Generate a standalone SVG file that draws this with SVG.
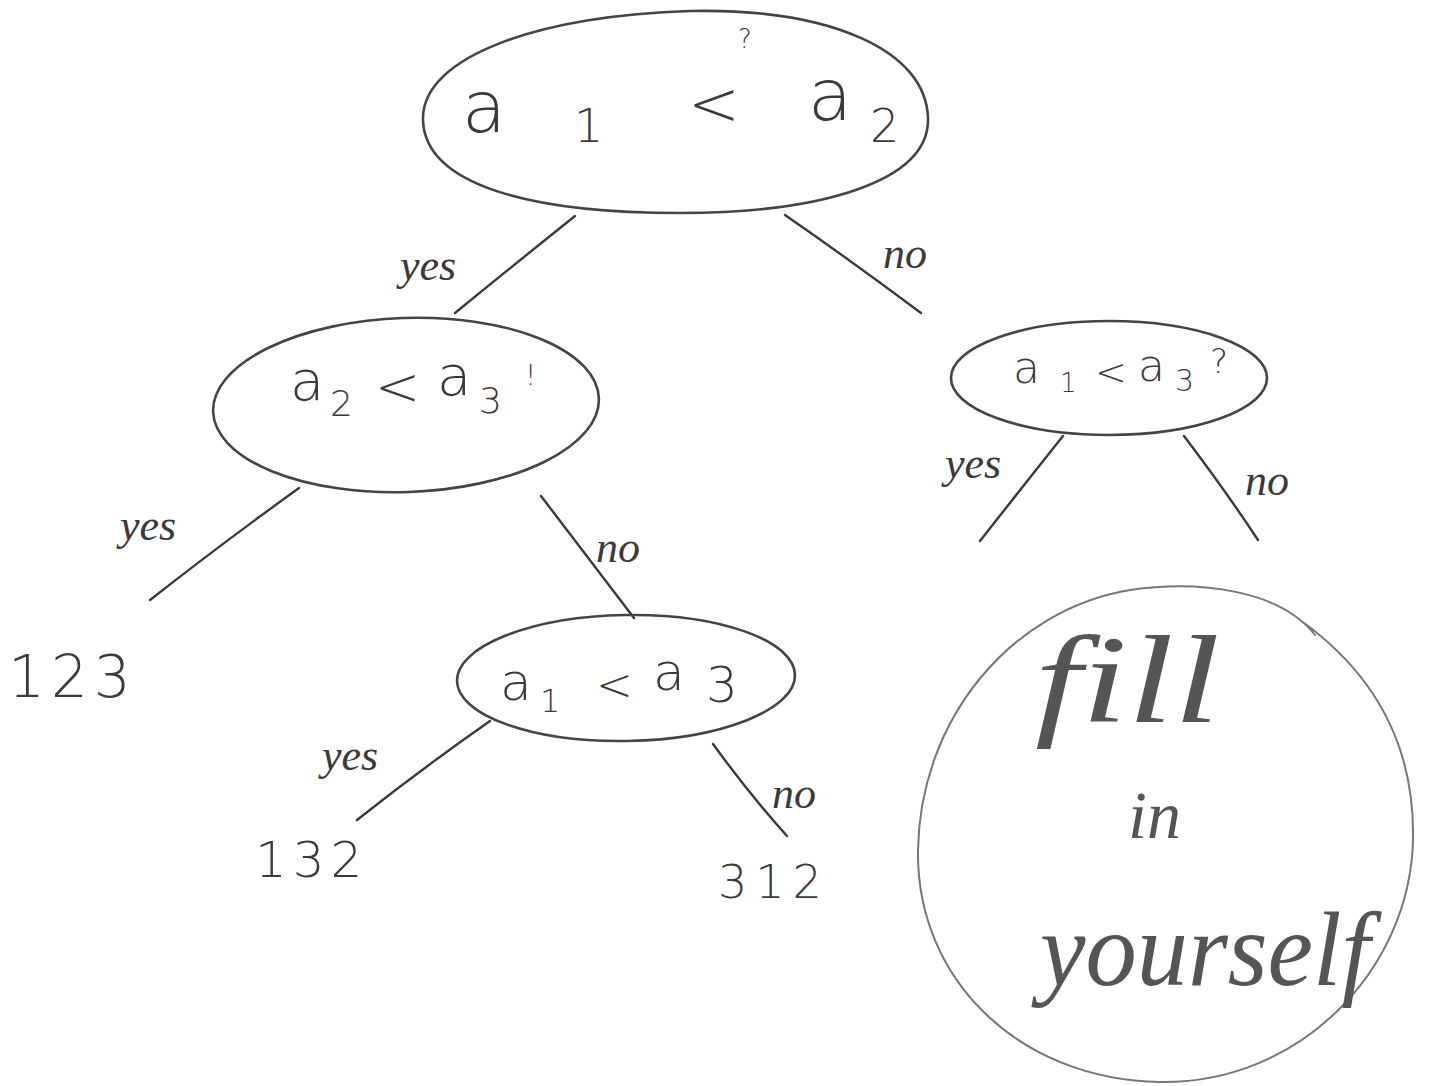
<svg xmlns="http://www.w3.org/2000/svg" width="1429" height="1086" viewBox="0 0 1429 1086">
<style>
.shape{fill:none;stroke:#444;stroke-width:2.6;stroke-linecap:round;stroke-linejoin:round}
.light{fill:none;stroke:#777;stroke-width:2;stroke-linecap:round}
.edge{fill:none;stroke:#3a3a3a;stroke-width:2.4;stroke-linecap:round}
.t{font-family:"DejaVu Sans","Liberation Sans",sans-serif;fill:#3a3a3a;font-weight:200}
.lbl{font-family:"Liberation Serif",serif;font-style:italic;fill:#3a3a3a;font-size:44px}
.big{font-family:"Liberation Serif",serif;font-style:italic;fill:#555}
</style>
<rect width="1429" height="1086" fill="#ffffff"/>
<g id="connectors">
<path class="edge" d="M575,216 Q520,260 455,313"/>
<path class="edge" d="M785,215 Q850,260 921,313"/>
<path class="edge" d="M299,488 Q220,545 150,600"/>
<path class="edge" d="M541,496 Q590,560 634,618"/>
<path class="edge" d="M1063,436 Q1020,490 980,541"/>
<path class="edge" d="M1184,436 Q1225,490 1258,540"/>
<path class="edge" d="M490,721 Q420,770 357,820"/>
<path class="edge" d="M713,744 Q750,795 787,836"/>
<text class="lbl" x="400" y="280">yes</text>
<text class="lbl" x="883" y="268">no</text>
<text class="lbl" x="120" y="540">yes</text>
<text class="lbl" x="596" y="562">no</text>
<text class="lbl" x="945" y="478">yes</text>
<text class="lbl" x="1245" y="495">no</text>
<text class="lbl" x="322" y="770">yes</text>
<text class="lbl" x="772" y="808">no</text>
</g>
<g id="node-a1-a2">
<path class="shape" d="M690,11 C830,8 926,50 928,118 C930,182 820,213 680,213 C530,213 425,185 423,120 C421,55 545,15 690,11 Z"/>
<text class="t" x="462" y="132" font-size="72">a</text>
<text class="t" x="574" y="142" font-size="46">1</text>
<text class="t" x="688" y="125" font-size="62">&lt;</text>
<text class="t" x="738" y="48" font-size="26">?</text>
<text class="t" x="808" y="120" font-size="72">a</text>
<text class="t" x="870" y="142" font-size="46">2</text>
</g>
<g id="node-a2-a3">
<ellipse class="shape" cx="406" cy="405" rx="193" ry="87" transform="rotate(-2 406 405)"/>
<text class="t" x="290" y="400" font-size="56">a</text>
<text class="t" x="330" y="416" font-size="36">2</text>
<text class="t" x="375" y="405" font-size="54">&lt;</text>
<text class="t" x="437" y="395" font-size="56">a</text>
<text class="t" x="479" y="413" font-size="36">3</text>
<text class="t" x="525" y="385" font-size="28">!</text>
</g>
<g id="node-a1-a3-right">
<ellipse class="shape" cx="1109" cy="378" rx="158" ry="57"/>
<text class="t" x="1013" y="383" font-size="44">a</text>
<text class="t" x="1060" y="392" font-size="26">1</text>
<text class="t" x="1095" y="385" font-size="38">&lt;</text>
<text class="t" x="1138" y="381" font-size="44">a</text>
<text class="t" x="1175" y="391" font-size="30">3</text>
<text class="t" x="1210" y="373" font-size="34">?</text>
</g>
<g id="node-a1-a3">
<ellipse class="shape" cx="626" cy="678" rx="169" ry="63" transform="rotate(-1 626 678)"/>
<text class="t" x="500" y="700" font-size="52">a</text>
<text class="t" x="540" y="712" font-size="32">1</text>
<text class="t" x="596" y="700" font-size="44">&lt;</text>
<text class="t" x="653" y="690" font-size="52">a</text>
<text class="t" x="706" y="702" font-size="50">3</text>
</g>
<g id="leaf-123">
<text class="t" x="8" y="697" font-size="58" letter-spacing="6">123</text>
</g>
<g id="leaf-132">
<text class="t" x="255" y="877" font-size="50" letter-spacing="6">132</text>
</g>
<g id="leaf-312">
<text class="t" x="718" y="898" font-size="46" letter-spacing="8">312</text>
</g>
<g id="note-fill-in-yourself">
<path class="light" d="M1315,635 C1280,590 1200,580 1130,590 C1010,610 920,720 918,850 C916,980 1020,1080 1160,1082 C1300,1084 1410,970 1413,840 C1415,740 1370,670 1300,620"/>
<text class="big" x="1035" y="722" font-size="125" textLength="185" lengthAdjust="spacingAndGlyphs">fill</text>
<text class="big" x="1128" y="838" font-size="68">in</text>
<text class="big" x="1040" y="985" font-size="105" textLength="330" lengthAdjust="spacingAndGlyphs">yourself</text>
</g>
</svg>
